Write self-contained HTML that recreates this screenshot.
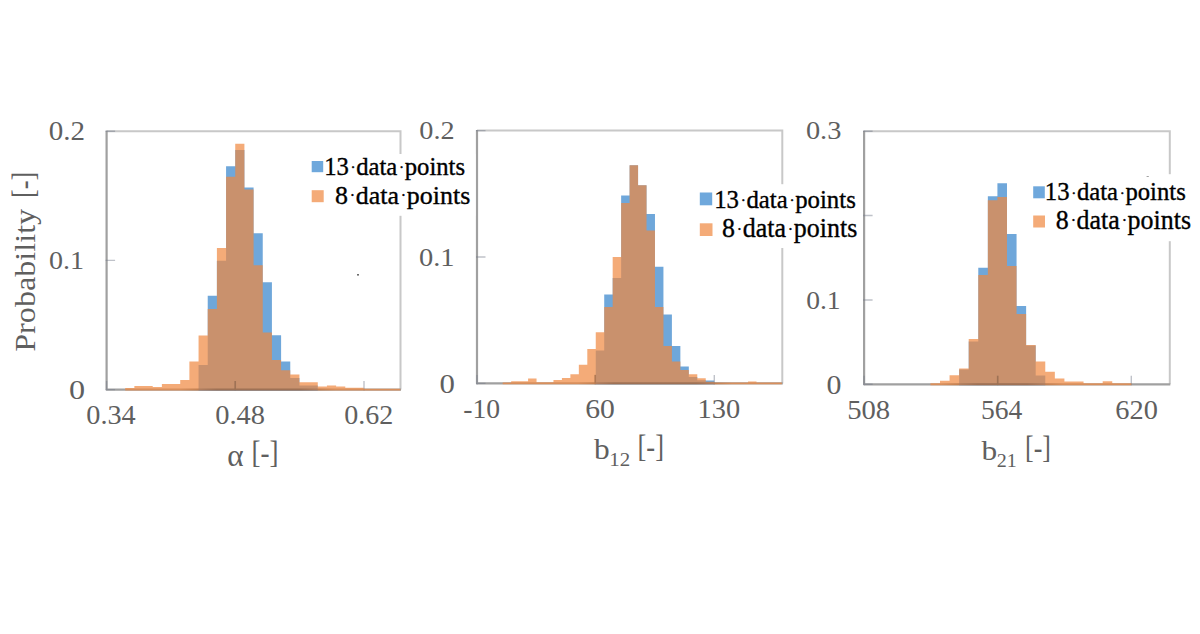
<!DOCTYPE html>
<html lang="en"><head><meta charset="utf-8"><title>Posterior histograms</title>
<style>
html,body{margin:0;padding:0;background:#fff;}
body{width:1200px;height:634px;overflow:hidden;}
svg{display:block;font-family:"Liberation Serif","DejaVu Serif",serif;}
svg text{white-space:pre;}
</style></head><body>
<svg width="1200" height="634" viewBox="0 0 1200 634">
<rect width="1200" height="634" fill="#fff"/>
<path d="M106.6,131.2H400.5V389.6" fill="none" stroke="#c8c8c8" stroke-width="2"/>
<path d="M106.6,130.7V389.6H401.0" fill="none" stroke="#a0a0a0" stroke-width="2.2" stroke-linejoin="round"/>
<path d="M106.6,390.6v-9.5M235.2,390.6v-9.5M364.0,390.6v-9.5M105.6,131.2h9.5M105.6,260.4h9.5M105.6,389.6h9.5" fill="none" stroke="#707888" stroke-opacity="0.45" stroke-width="1.4"/>
<path d="M477.0,130.6H782.3V383.4" fill="none" stroke="#c8c8c8" stroke-width="2"/>
<path d="M477.0,130.1V383.4H782.8" fill="none" stroke="#a0a0a0" stroke-width="2.2" stroke-linejoin="round"/>
<path d="M477.0,384.4v-9.5M595.2,384.4v-9.5M714.3,384.4v-9.5M476.0,130.6h9.5M476.0,257.0h9.5M476.0,383.4h9.5" fill="none" stroke="#707888" stroke-opacity="0.45" stroke-width="1.4"/>
<path d="M864.1,131.2H1169.8V384.3" fill="none" stroke="#c8c8c8" stroke-width="2"/>
<path d="M864.1,130.7V384.3H1170.3" fill="none" stroke="#a0a0a0" stroke-width="2.2" stroke-linejoin="round"/>
<path d="M864.1,385.3v-9.5M997.7,385.3v-9.5M1131.3,385.3v-9.5M863.1,131.2h9.5M863.1,215.5h9.5M863.1,300.0h9.5M863.1,384.3h9.5" fill="none" stroke="#707888" stroke-opacity="0.45" stroke-width="1.4"/>
<path d="M198.56,390.40V365.00H207.73V295.70H216.90V260.80H226.07V166.30H235.24V149.90H244.41V187.40H253.58V233.20H262.75V282.30H271.92V335.30H281.09V361.50H290.26V378.00H299.43V385.50H308.60V385.50H317.77V390.40Z" fill="#5b9bd5" fill-opacity="0.88"/>
<path d="M125.20,390.40V388.00H134.37V386.00H143.54V386.00H152.71V387.00H161.88V384.00H171.05V384.00H180.22V380.00H189.39V361.50H198.56V335.40H207.73V309.00H216.90V248.00H226.07V176.80H235.24V143.70H244.41V189.50H253.58V265.20H262.75V332.40H271.92V360.00H281.09V370.20H290.26V374.50H299.43V382.30H308.60V382.30H317.77V386.60H326.94V385.50H336.11V386.60H345.28V387.70H354.45V387.70H363.62V388.70H372.79V388.70H381.96V388.70H391.13V388.70H400.30V390.40Z" fill="#ef873e" fill-opacity="0.7"/>
<path d="M595.76,384.20V350.50H604.22V294.40H612.68V277.90H621.14V195.60H629.60V165.30H638.06V185.20H646.52V213.90H654.98V266.80H663.44V314.50H671.90V346.00H680.36V366.40H688.82V377.00H697.28V380.30H705.74V380.60H714.20V384.20Z" fill="#5b9bd5" fill-opacity="0.88"/>
<path d="M502.70,384.20V382.50H511.16V381.20H519.62V381.20H528.08V378.50H536.54V382.30H545.00V382.30H553.46V380.00H561.92V378.00H570.38V374.30H578.84V364.80H587.30V349.00H595.76V332.30H604.22V307.00H612.68V257.00H621.14V202.90H629.60V165.30H638.06V185.20H646.52V230.50H654.98V307.00H663.44V346.00H671.90V361.40H680.36V370.00H688.82V374.30H697.28V378.30H705.74V381.80H714.20V382.50H722.66V382.50H731.12V382.50H739.58V382.50H748.04V381.50H756.50V382.50H764.96V382.50H773.42V382.50H781.88V384.20Z" fill="#ef873e" fill-opacity="0.7"/>
<path d="M959.14,385.20V369.60H968.71V341.50H978.28V267.80H987.85V196.20H997.42V183.20H1006.99V234.10H1016.56V306.00H1026.13V345.60H1035.70V375.40H1045.27V385.20Z" fill="#5b9bd5" fill-opacity="0.88"/>
<path d="M930.43,385.20V383.30H940.00V380.80H949.57V375.30H959.14V368.40H968.71V339.00H978.28V275.00H987.85V200.30H997.42V197.00H1006.99V266.00H1016.56V313.90H1026.13V345.00H1035.70V361.40H1045.27V371.80H1054.84V378.40H1064.41V381.60H1073.98V381.60H1083.55V383.30H1093.12V383.30H1102.69V381.20H1112.26V383.30H1121.83V383.30H1131.40V385.20Z" fill="#ef873e" fill-opacity="0.7"/>
<linearGradient id="ov1" gradientUnits="userSpaceOnUse" x1="180.4" y1="0" x2="335.6" y2="0"><stop offset="0" stop-color="#000" stop-opacity="0"/><stop offset="0.232" stop-color="#000" stop-opacity="0.2"/><stop offset="0.768" stop-color="#000" stop-opacity="0.2"/><stop offset="1" stop-color="#000" stop-opacity="0"/></linearGradient>
<rect x="180.4" y="388.5" width="155.2" height="2.2" fill="url(#ov1)"/>
<path d="M235.2,388.6v-7.6" fill="none" stroke="#000" stroke-opacity="0.2" stroke-width="1.7"/>
<linearGradient id="ov2" gradientUnits="userSpaceOnUse" x1="577.8" y1="0" x2="732.3" y2="0"><stop offset="0" stop-color="#000" stop-opacity="0"/><stop offset="0.233" stop-color="#000" stop-opacity="0.2"/><stop offset="0.767" stop-color="#000" stop-opacity="0.2"/><stop offset="1" stop-color="#000" stop-opacity="0"/></linearGradient>
<rect x="577.8" y="382.29999999999995" width="154.5" height="2.2" fill="url(#ov2)"/>
<path d="M595.2,382.4v-7.6" fill="none" stroke="#000" stroke-opacity="0.2" stroke-width="1.7"/>
<linearGradient id="ov3" gradientUnits="userSpaceOnUse" x1="941.1" y1="0" x2="1063.3" y2="0"><stop offset="0" stop-color="#000" stop-opacity="0"/><stop offset="0.295" stop-color="#000" stop-opacity="0.2"/><stop offset="0.705" stop-color="#000" stop-opacity="0.2"/><stop offset="1" stop-color="#000" stop-opacity="0"/></linearGradient>
<rect x="941.1" y="383.2" width="122.2" height="2.2" fill="url(#ov3)"/>
<path d="M997.7,383.3v-7.6" fill="none" stroke="#000" stroke-opacity="0.2" stroke-width="1.7"/>
<text transform="translate(48.81,140.31) scale(1.1027,1)" font-size="26.32" fill="#5f5f5f">0.2</text>
<text transform="translate(49.05,269.12) scale(1.0953,1)" font-size="25.59" fill="#5f5f5f">0.1</text>
<text transform="translate(69.09,399.03) scale(1.2156,1)" font-size="26.52" fill="#5f5f5f">0</text>
<text transform="translate(86.24,424.49) scale(1.0394,1)" font-size="27.21" fill="#5f5f5f">0.34</text>
<text transform="translate(215.23,424.29) scale(1.0524,1)" font-size="27.06" fill="#5f5f5f">0.48</text>
<text transform="translate(344.15,424.29) scale(1.0368,1)" font-size="27.06" fill="#5f5f5f">0.62</text>
<text transform="translate(419.34,138.51) scale(1.0977,1)" font-size="25.74" fill="#5f5f5f">0.2</text>
<text transform="translate(418.93,265.82) scale(1.1187,1)" font-size="25.44" fill="#5f5f5f">0.1</text>
<text transform="translate(439.44,392.63) scale(1.1495,1)" font-size="26.81" fill="#5f5f5f">0</text>
<text transform="translate(463.26,418.23) scale(1.0436,1)" font-size="26.52" fill="#5f5f5f">-10</text>
<text transform="translate(585.24,418.43) scale(1.0886,1)" font-size="27.26" fill="#5f5f5f">60</text>
<text transform="translate(697.61,418.43) scale(1.0432,1)" font-size="27.26" fill="#5f5f5f">130</text>
<text transform="translate(805.93,139.31) scale(1.0850,1)" font-size="26.18" fill="#5f5f5f">0.3</text>
<text transform="translate(806.17,308.92) scale(1.0845,1)" font-size="25.44" fill="#5f5f5f">0.1</text>
<text transform="translate(826.48,393.73) scale(1.1144,1)" font-size="26.81" fill="#5f5f5f">0</text>
<text transform="translate(847.15,418.73) scale(1.0697,1)" font-size="26.81" fill="#5f5f5f">508</text>
<text transform="translate(981.01,418.73) scale(1.0255,1)" font-size="26.91" fill="#5f5f5f">564</text>
<text transform="translate(1115.29,418.73) scale(1.0584,1)" font-size="26.81" fill="#5f5f5f">620</text>
<text transform="translate(251.47,463.19) scale(0.8475,1)" font-size="31.93" fill="#5f5f5f">[-]</text>
<text transform="translate(227.33,465.98) scale(0.9834,1)" font-size="31.71" fill="#5f5f5f">α</text>
<text transform="translate(637.51,457.19) scale(0.8291,1)" font-size="31.93" fill="#5f5f5f">[-]</text>
<text transform="translate(594.00,458.71) scale(1.0782,1)" font-size="29.08" fill="#5f5f5f">b</text>
<text transform="translate(609.16,466.00) scale(1.1125,1)" font-size="18.87" fill="#5f5f5f">12</text>
<text transform="translate(1025.06,458.19) scale(0.8107,1)" font-size="31.93" fill="#5f5f5f">[-]</text>
<text transform="translate(981.50,459.72) scale(1.1051,1)" font-size="28.37" fill="#5f5f5f">b</text>
<text transform="translate(996.65,466.50) scale(1.0630,1)" font-size="18.87" fill="#5f5f5f">21</text>
<text transform="translate(35.02,351.79) rotate(-90) scale(1.0848,1)" font-size="29.67" fill="#5f5f5f">Probability</text>
<text transform="translate(33.67,198.09) rotate(-90) scale(0.8260,1)" font-size="32.05" fill="#5f5f5f">[-]</text>
<rect x="306" y="154" width="169.4" height="61.8" fill="#fff"/>
<rect x="311.7" y="161.0" width="11.50" height="11.20" fill="#6fa8dc"/>
<rect x="311.7" y="190.2" width="12.00" height="12.00" fill="#f4ab78"/>
<text transform="translate(324.14,174.53) scale(0.9954,1)" font-size="24.79" fill="#000" stroke="#000" stroke-width="0.35">13<tspan font-size="15.37" dx="1.77" dy="-2.45">·</tspan><tspan dx="0.59" dy="2.45">data</tspan><tspan font-size="15.37" dx="1.77" dy="-2.45">·</tspan><tspan dx="0.59" dy="2.45">points</tspan></text>
<text transform="translate(335.03,203.54) scale(1.0107,1)" font-size="25.67" fill="#000" stroke="#000" stroke-width="0.35">8<tspan font-size="15.92" dx="1.83" dy="-2.54">·</tspan><tspan dx="0.61" dy="2.54">data</tspan><tspan font-size="15.92" dx="1.83" dy="-2.54">·</tspan><tspan dx="0.61" dy="2.54">points</tspan></text>
<rect x="694" y="184.2" width="168.5" height="63.8" fill="#fff"/>
<rect x="699.8" y="192.5" width="12.40" height="12.80" fill="#6fa8dc"/>
<rect x="699.8" y="223.3" width="12.70" height="12.70" fill="#f4ab78"/>
<text transform="translate(714.13,207.51) scale(0.9960,1)" font-size="24.90" fill="#000" stroke="#000" stroke-width="0.35">13<tspan font-size="15.44" dx="1.77" dy="-2.46">·</tspan><tspan dx="0.59" dy="2.46">data</tspan><tspan font-size="15.44" dx="1.77" dy="-2.46">·</tspan><tspan dx="0.59" dy="2.46">points</tspan></text>
<text transform="translate(722.03,237.18) scale(0.9812,1)" font-size="26.45" fill="#000" stroke="#000" stroke-width="0.35">8<tspan font-size="16.40" dx="1.88" dy="-2.61">·</tspan><tspan dx="0.63" dy="2.61">data</tspan><tspan font-size="16.40" dx="1.88" dy="-2.61">·</tspan><tspan dx="0.63" dy="2.61">points</tspan></text>
<rect x="1028" y="174.2" width="172.0" height="67.0" fill="#fff"/>
<rect x="1033.2" y="186.3" width="11.60" height="12.00" fill="#6fa8dc"/>
<rect x="1033.2" y="215.5" width="11.80" height="12.00" fill="#f4ab78"/>
<text transform="translate(1044.84,200.30) scale(1.0089,1)" font-size="24.46" fill="#000" stroke="#000" stroke-width="0.35">13<tspan font-size="15.17" dx="1.74" dy="-2.42">·</tspan><tspan dx="0.58" dy="2.42">data</tspan><tspan font-size="15.17" dx="1.74" dy="-2.42">·</tspan><tspan dx="0.58" dy="2.42">points</tspan></text>
<text transform="translate(1055.83,228.60) scale(0.9846,1)" font-size="26.34" fill="#000" stroke="#000" stroke-width="0.35">8<tspan font-size="16.33" dx="1.88" dy="-2.60">·</tspan><tspan dx="0.63" dy="2.60">data</tspan><tspan font-size="16.33" dx="1.88" dy="-2.60">·</tspan><tspan dx="0.63" dy="2.60">points</tspan></text>
<rect x="357.2" y="274" width="1.6" height="1.6" fill="#4a4a4a"/><rect x="1146.6" y="176" width="2.2" height="0.9" fill="#999"/>
</svg>
</body></html>
